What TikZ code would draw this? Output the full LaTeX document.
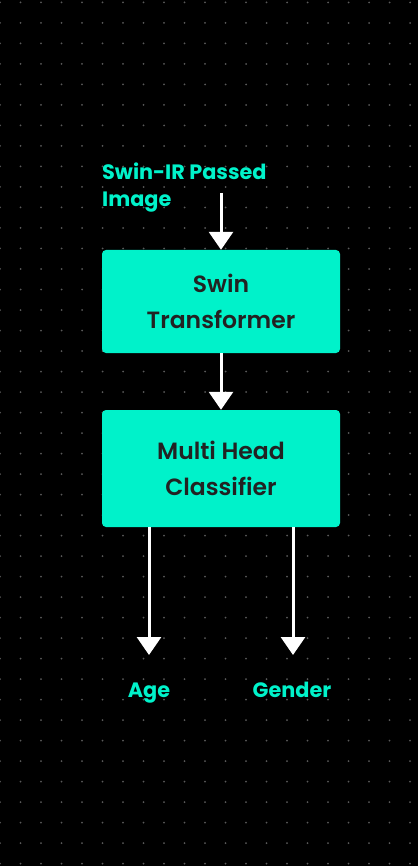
\documentclass[tikz,border=0pt]{standalone}
\usepackage{fontspec}
\setmainfont{Poppins}
\newfontfamily\popmed{Poppins SemiBold}
\usetikzlibrary{arrows.meta}
\definecolor{teal}{RGB}{0,242,202}
\definecolor{ink}{RGB}{34,34,34}
\definecolor{dotc}{RGB}{90,90,90}
\tikzset{
  box/.style={fill=teal, rounded corners=4pt, minimum width=238pt, inner sep=0pt, align=center, text=ink, font=\popmed\fontsize{23.5}{35.5}\selectfont},
  lbl/.style={text=teal, inner sep=0pt, font=\fontsize{20.8}{27}\selectfont\bfseries},
  flow/.style={draw=white, line width=3pt, -{Triangle[width=24pt,length=18pt,fill=white]}}
}
\begin{document}
\begin{tikzpicture}[x=1pt,y=-1pt]
\fill[black] (0,0) rectangle (418,866);
\useasboundingbox (0,0) rectangle (418,866);
\foreach \i in {0,...,20} {\foreach \j in {0,...,42} {\fill[dotc] (\i*20.5,2.5+\j*20.5) circle (1pt);}}
\node[lbl, anchor=north west, align=left] (inp) at (102,162.5) {Swin-IR Passed\\Image};
\node[box, minimum height=103pt] (b1) at (221,301.5) {Swin\\Transformer};
\node[box, minimum height=117pt] (b2) at (221,468.5) {Multi Head\\Classifier};
\coordinate (s) at (221,193);
\coordinate (ta) at (149,655);
\coordinate (tg) at (293,655);
\draw[flow] (s) -- (b1.north);
\draw[flow] (b1.south) -- (b2.north);
\draw[flow] (b2.south -| ta) -- (ta);
\draw[flow] (b2.south -| tg) -- (tg);
\node[lbl, anchor=base] (age) at (149,697) {Age};
\node[lbl, anchor=base] (gen) at (292,697) {Gender};
\end{tikzpicture}
\end{document}
